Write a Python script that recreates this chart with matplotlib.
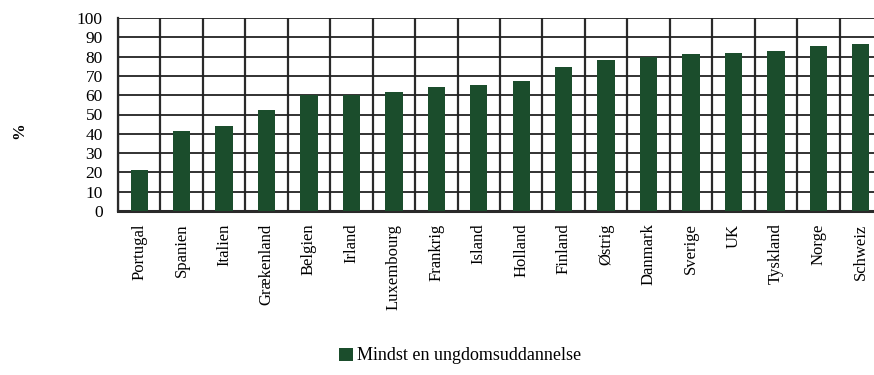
import matplotlib.pyplot as plt
import numpy as np

lande = ['Portugal', 'Spanien', 'Italien', 'Grækenland', 'Belgien', 'Irland',
         'Luxembourg', 'Frankrig', 'Island', 'Holland', 'Finland', 'Østrig',
         'Danmark', 'Sverige', 'UK', 'Tyskland', 'Norge', 'Schweiz']
andel = [21, 41.5, 44, 52.3, 60, 60, 61.7, 64.2, 65.3, 67.4, 74.6, 78.2,
         80, 81.3, 81.9, 82.9, 85.5, 86.5]
serie_navn = 'Mindst en ungdomsuddannelse'

plt.rcParams['font.family'] = ['Liberation Serif', 'DejaVu Serif']

fig = plt.figure(figsize=(8.74, 3.75), dpi=100)
ax = fig.add_axes([118 / 874, 1 - 211 / 375, (882 - 118) / 874, (211 - 18) / 375])

x = np.arange(len(lande))
ax.bar(x, andel, width=0.41, color='#1b4d2c', label=serie_navn, zorder=3)

ax.set_xlim(-0.5, len(lande) - 0.5)
ax.set_ylim(0, 100)
ax.set_yticks(range(0, 101, 10))
ax.tick_params(axis='y', length=0, labelsize=12.5, pad=11)
ax.set_xticks(x)
ax.set_xticklabels(lande, rotation=90, fontsize=12)
ax.tick_params(axis='x', length=0, pad=9)

# gitterlinjer: vandrette ved hver tier, lodrette mellem landene
ax.yaxis.grid(True, color='#222222', linewidth=1.3, zorder=0)
ax.set_xticks(np.arange(-0.5, len(lande)), minor=True)
ax.xaxis.grid(True, which='minor', color='#2a2a2a', linewidth=1.6, zorder=0)
ax.tick_params(axis='x', which='minor', length=0)

for side in ['top', 'right']:
    ax.spines[side].set_visible(False)
ax.spines['left'].set_linewidth(1.6)
ax.spines['left'].set_color('#2a2a2a')
ax.spines['bottom'].set_linewidth(2.2)
ax.spines['bottom'].set_color('#2a2a2a')

fig.text(19 / 874, 1 - 131 / 375, '%', rotation=90, fontsize=12,
         fontweight='bold', ha='center', va='center')

fig.legend(loc='center', bbox_to_anchor=(460 / 874, 1 - 356 / 375),
           frameon=False, fontsize=13, handlelength=0.75, handleheight=0.75,
           handletextpad=0.2)

fig.savefig('out.png', dpi=100)
